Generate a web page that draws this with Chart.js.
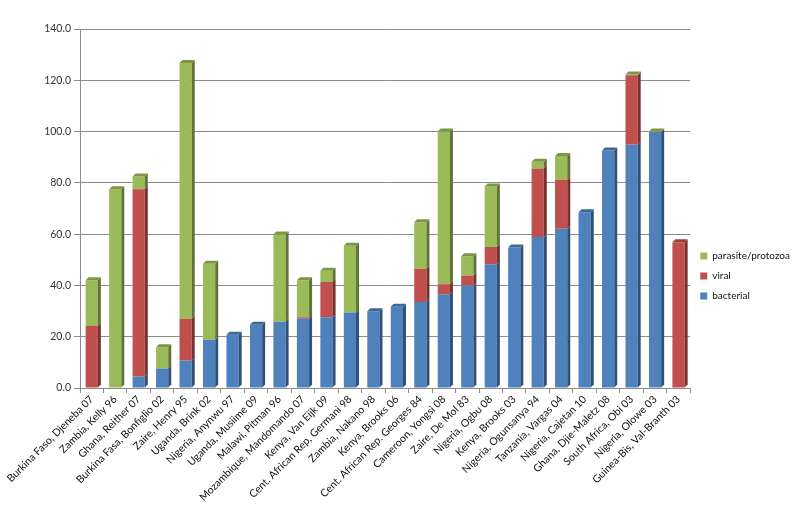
<!DOCTYPE html>
<html lang="en">
<head>
  <meta charset="UTF-8" />
  <title>Aetiology by study</title>
  <script src="https://cdn.jsdelivr.net/npm/chart.js"></script>
  <style>
    body { margin: 0; background: #fff; }
    .wrap { width: 800px; height: 523px; }
  </style>
</head>
<body>
  <div class="wrap"><canvas id="chart" width="800" height="523"></canvas></div>
  <script>
    const studies = [
      "Burkina Faso, Djeneba 07", "Zambia, Kelly 96", "Ghana, Reither 07",
      "Burkina Fasa, Bonfiglio 02", "Zaire, Henry 95", "Uganda, Brink 02",
      "Nigeria, Anynwu 97", "Uganda, Musiime 09", "Malawi, Pitman 96",
      "Mozambique, Mandomando 07", "Kenya, Van Eijk 09", "Cent. African Rep, Germani 98",
      "Zambia, Nakano 98", "Kenya, Brooks 06", "Cent. African Rep. Georges 84",
      "Cameroon, Yongsi 08", "Zaire, De Mol 83", "Nigeria, Ogbu 08",
      "Kenya, Brooks 03", "Nigeria, Ogunsanya 94", "Tanzania, Vargas 04",
      "Nigeria, Cajetan 10", "Ghana, Djie-Maletz 08", "South Africa, Obi 03",
      "Nigeria, Olowe 03", "Guinea-Bis, Val-Branth 03"
    ];
    const bacterial = [0, 0, 4.5, 7.6, 10.7, 18.8, 20.8, 24.7, 25.8, 27, 27.6, 29.4, 29.9, 31.7, 33.5, 36.6, 40, 48.3, 54.8, 58.9, 62.1, 68.5, 92.6, 94.9, 99.8, 0];
    const viral = [24.2, 0, 73, 0, 16.3, 0, 0, 0, 0, 0.6, 13.7, 0, 0, 0, 13, 3.9, 3.9, 6.7, 0, 26.7, 19.1, 0, 0, 27.1, 0, 56.8];
    const parasite = [17.8, 77.5, 5, 8.3, 99.7, 29.7, 0, 0, 34.1, 14.4, 4.4, 26.1, 0, 0, 18.1, 59.5, 7.5, 23.6, 0, 2.6, 9.3, 0, 0, 0.3, 0.2, 0];

    const FONT = "Lato, 'Open Sans', sans-serif";

    function shade(hex, f) {
      const n = parseInt(hex.slice(1), 16);
      const r = Math.round(((n >> 16) & 255) * f), g = Math.round(((n >> 8) & 255) * f), b = Math.round((n & 255) * f);
      return `rgb(${r},${g},${b})`;
    }

    // fake the excel 3d look: dark side face + top cap on the highest segment
    const depth3d = {
      id: 'depth3d',
      afterDatasetsDraw(chart) {
        const ctx = chart.ctx, d = 3;
        const tops = {};
        chart.data.datasets.forEach((ds, di) => {
          const meta = chart.getDatasetMeta(di);
          meta.data.forEach((bar, i) => {
            if (!ds.data[i]) return;
            const { x, y, base, width } = bar.getProps(['x', 'y', 'base', 'width'], true);
            const r = x + width / 2;
            ctx.fillStyle = shade(ds.backgroundColor, 0.62);
            ctx.beginPath();
            ctx.moveTo(r, base); ctx.lineTo(r, y); ctx.lineTo(r + d, y - d); ctx.lineTo(r + d, base - d);
            ctx.closePath(); ctx.fill();
            tops[i] = { x, y, width, color: ds.backgroundColor };
          });
        });
        Object.values(tops).forEach(t => {
          const l = t.x - t.width / 2, r = t.x + t.width / 2;
          ctx.fillStyle = shade(t.color, 0.8);
          ctx.beginPath();
          ctx.moveTo(l, t.y); ctx.lineTo(r, t.y); ctx.lineTo(r + d, t.y - d); ctx.lineTo(l + d, t.y - d);
          ctx.closePath(); ctx.fill();
        });
      }
    };

    new Chart(document.getElementById('chart'), {
      type: 'bar',
      data: {
        labels: studies,
        datasets: [
          { label: 'bacterial', data: bacterial, backgroundColor: '#4F81BD' },
          { label: 'viral', data: viral, backgroundColor: '#C0504D' },
          { label: 'parasite/protozoa', data: parasite, backgroundColor: '#9BBB59' }
        ]
      },
      options: {
        responsive: false,
        animation: false,
        barPercentage: 0.52,
        categoryPercentage: 1,
        layout: { padding: { top: 29, left: 12, right: 0, bottom: 0 } },
        scales: {
          x: {
            stacked: true,
            afterFit: s => { s.height = 135; },
            grid: { display: true, drawOnChartArea: false, offset: true, tickLength: 5, color: '#8c8c8c' },
            border: { color: '#8c8c8c' },
            ticks: { minRotation: 45, maxRotation: 45, autoSkip: false, color: '#111', font: { family: FONT, size: 10.5 }, padding: 0 }
          },
          y: {
            stacked: true,
            min: 0, max: 140,
            afterFit: s => { s.width = 68; },
            grid: { color: '#8c8c8c', tickLength: 6 },
            border: { color: '#8c8c8c' },
            ticks: { stepSize: 20, color: '#333', font: { family: FONT, size: 10.5 }, callback: v => v.toFixed(1) }
          }
        },
        plugins: {
          legend: {
            position: 'right',
            reverse: true,
            labels: { boxWidth: 7, boxHeight: 7, padding: 10, color: '#111', font: { family: FONT, size: 10 } }
          },
          tooltip: { enabled: false }
        }
      },
      plugins: [depth3d]
    });
  </script>
</body>
</html>
